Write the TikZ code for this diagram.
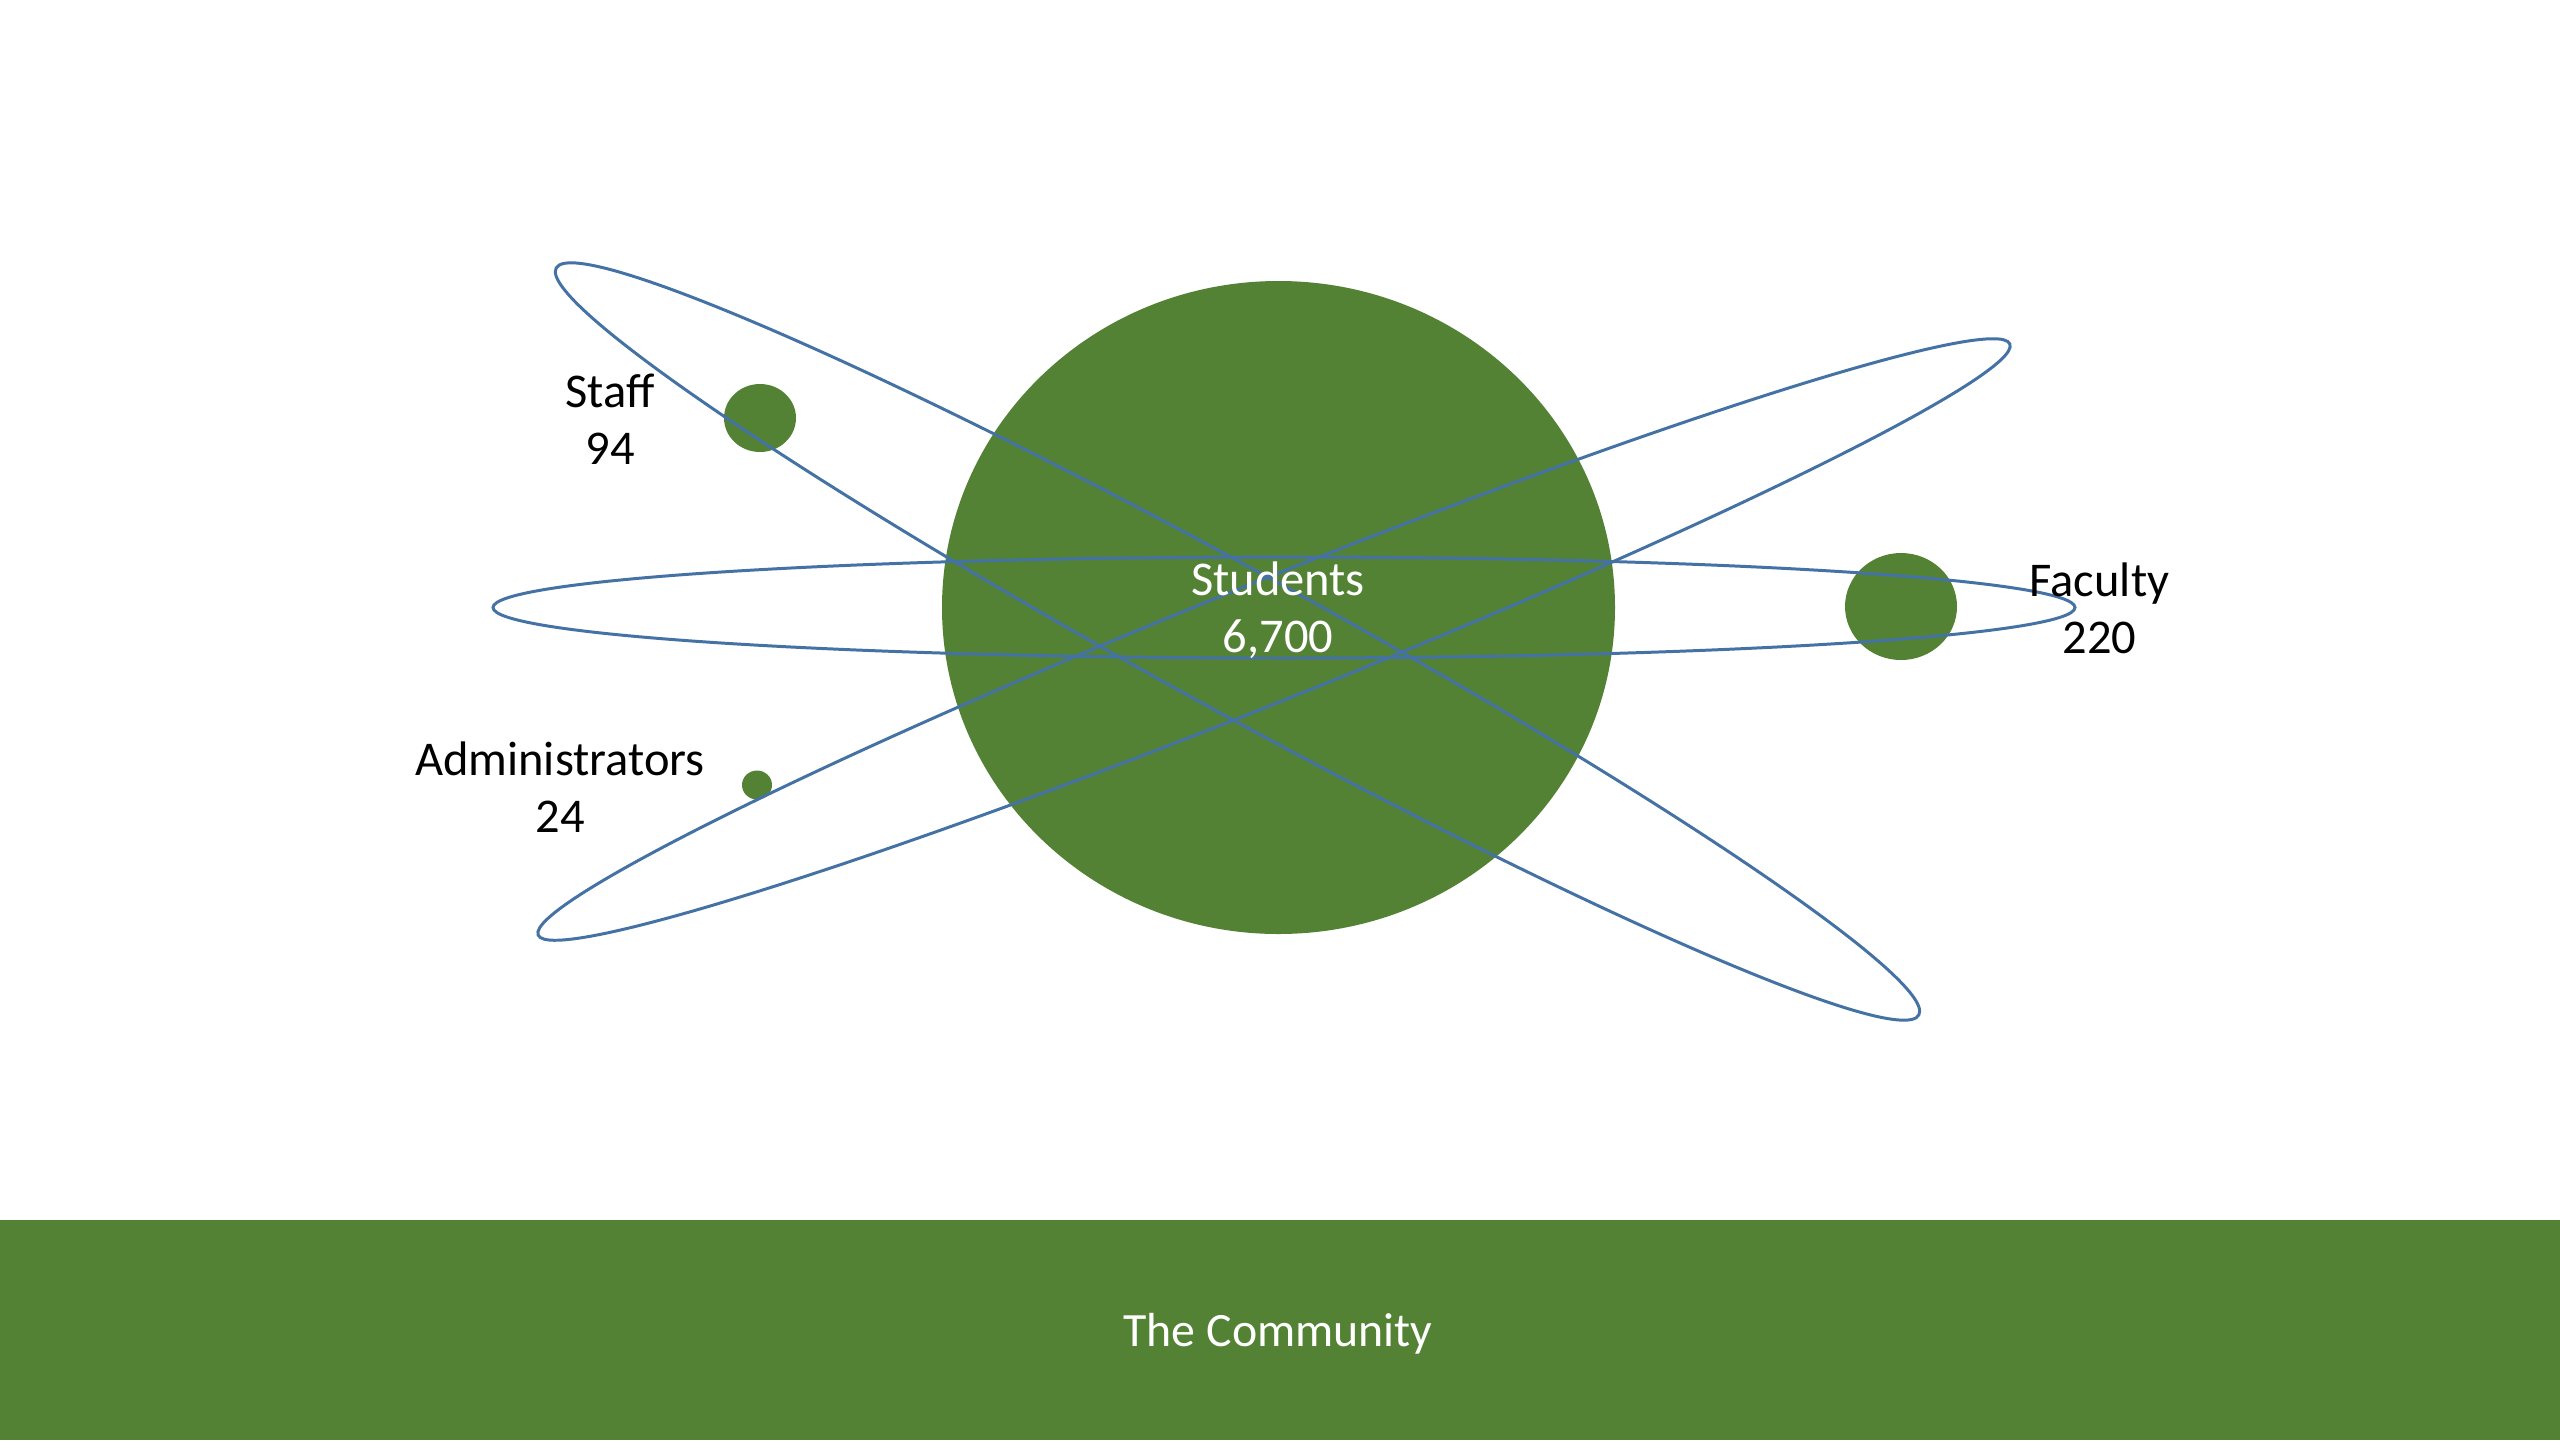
\documentclass[tikz,border=0pt]{standalone}
\usepackage{fontspec}
\setmainfont{Carlito}
\usetikzlibrary{shapes.geometric}
\definecolor{slidegreen}{RGB}{84,130,53}
\definecolor{orbitblue}{RGB}{68,114,164}
\tikzset{
  planet/.style={ellipse, fill=slidegreen, draw=none, inner sep=0pt},
  orbit/.style={draw=orbitblue, line width=0.85pt},
  countlabel/.style={align=center, font=\fontsize{13.8}{16.3}\selectfont, inner sep=0pt},
}

\begin{document}
\begin{tikzpicture}
  \useasboundingbox (0,0) rectangle (25.6,-14.4);
  % footer bar
  \fill[slidegreen] (0,-12.2) rectangle (25.6,-14.4);
  \node[countlabel, text=white, font=\fontsize{13.6}{16}\selectfont] (title) at (12.78,-13.34) {The Community};

  % bodies
  \node[planet, minimum width=6.73cm, minimum height=6.53cm] (students) at (12.785,-6.075) {};
  \node[planet, minimum width=7.2mm, minimum height=6.8mm] (staff) at (7.6,-4.18) {};
  \node[planet, minimum width=11.2mm, minimum height=10.7mm] (faculty) at (19.01,-6.065) {};
  \node[planet, minimum width=3mm, minimum height=2.9mm] (admin) at (7.57,-7.85) {};

  % orbits
  \draw[orbit] (12.84,-6.075) ellipse (7.91 and 0.505);
  \draw[orbit, rotate around={-28.73:(12.375,-6.415)}] (12.375,-6.415) ellipse (7.77 and 0.71);
  \draw[orbit, rotate around={21.88:(12.74,-6.395)}] (12.74,-6.395) ellipse (7.93 and 0.60);

  % labels
  \node[countlabel, text=white] (studentsnum) at (12.78,-6.10) {Students\\6,700};
  \node[countlabel] (staffnum) at (6.10,-4.19) {Staff\\94};
  \node[countlabel] (facultynum) at (20.995,-6.08) {Faculty\\220};
  \node[countlabel] (adminnum) at (5.60,-7.87) {Administrators\\24};
\end{tikzpicture}
\end{document}
